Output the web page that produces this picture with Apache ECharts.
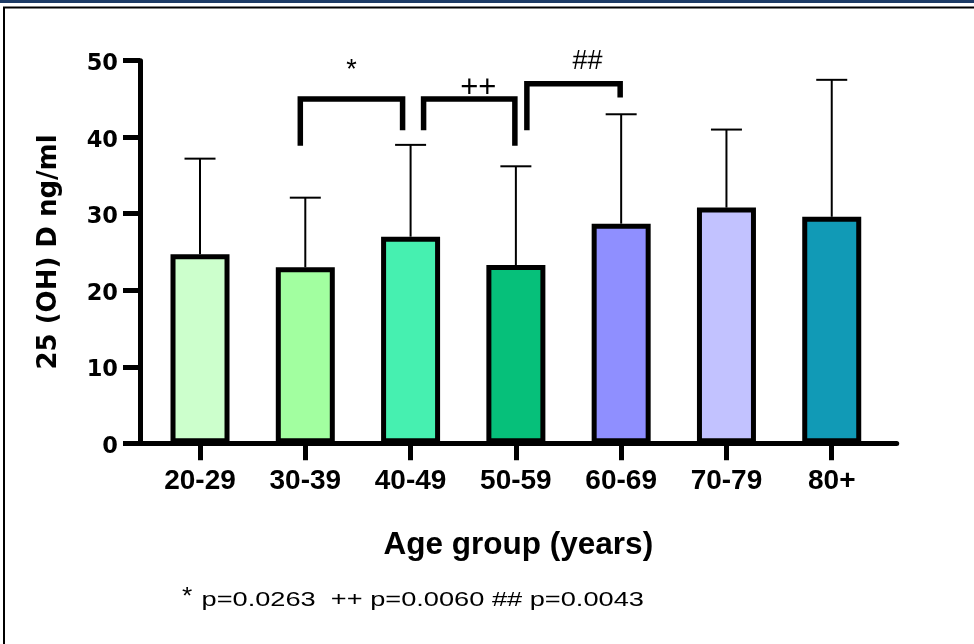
<!DOCTYPE html>
<html><head><meta charset="utf-8">
<script src="https://cdn.jsdelivr.net/npm/echarts@6/dist/echarts.min.js"></script>
<style>html,body{margin:0;padding:0;background:#fff}#c{width:974px;height:644px}</style>
</head><body><div id="c"></div>
<script>
// ---- data ----
const categories = ['20-29', '30-39', '40-49', '50-59', '60-69', '70-79', '80+'];
const means = [24.7, 23.0, 27.0, 23.3, 28.7, 30.8, 29.6];
const sds = [12.5, 9.1, 12.0, 12.9, 14.3, 10.2, 17.9];
const barColors = ['#ccffcc', '#a2ffa0', '#46f0b0', '#06c07a', '#8f8fff', '#c2c2ff', '#119ab6'];
const yTicks = [0, 10, 20, 30, 40, 50];
// significance brackets (category indices and value-axis heights)
const bracketFrom = [1, 2, 3];
const bracketTo = [2, 3, 4];
const bracketTop = [45.0, 45.0, 47.0];
const bracketLeftEnd = [38.9, 40.9, 40.9];
const bracketRightEnd = [40.9, 38.9, 45.2];
const bracketLabels = ['*', '++', '##'];
const footStar = '*';
const footText = 'p=0.0263  ++ p=0.0060 ## p=0.0043';

// ---- style / layout ----
const FONT = '"Liberation Sans", Arial, sans-serif';
const bracketLegDx = [[-5, -8], [13, -1], [11, -1]];
const bracketLabelOffset = [[0, -28, 27], [9, -11, 31], [14, -22, 27]];

const chart = echarts.init(document.getElementById('c'), null, {renderer: 'canvas'});
const catIdx = categories.map((c, i) => i);

function renderErr(params, api) {
  const i = api.value(0), m = api.value(1), s = api.value(2);
  const base = api.coord([i, m]);
  const top = api.coord([i, m + s]);
  const hw = 15.5;
  return {type: 'group', children: [
    {type: 'line', shape: {x1: base[0], y1: base[1], x2: top[0], y2: top[1]}, style: {stroke: '#000', lineWidth: 2}},
    {type: 'line', shape: {x1: top[0] - hw, y1: top[1], x2: top[0] + hw, y2: top[1]}, style: {stroke: '#000', lineWidth: 2}}
  ]};
}
function renderBracket(params, api) {
  const k = params.dataIndex;
  const f = api.value(0), t = api.value(1), top = api.value(2), le = api.value(3), re = api.value(4);
  const dx = bracketLegDx[k];
  const pL = api.coord([f, le]), pT = api.coord([f, top]), pR = api.coord([t, re]);
  const xl = pL[0] + dx[0], xr = pR[0] + dx[1];
  const lo = bracketLabelOffset[k];
  return {type: 'group', children: [
    {type: 'polyline', shape: {points: [[xl, pL[1]], [xl, pT[1]], [xr, pT[1]], [xr, pR[1]]]},
     style: {stroke: '#000', lineWidth: 5.5, fill: null, lineJoin: 'miter'}},
    {type: 'text', x: (xl + xr) / 2 + lo[0], y: pT[1] + lo[1],
     style: {text: bracketLabels[k], align: 'center', verticalAlign: 'middle',
       fontSize: lo[2], fontFamily: FONT, fill: '#000'}}
  ]};
}

const option = {
  backgroundColor: '#fff',
  animation: false,
  grid: {left: 140, top: 60.7, width: 756.7, height: 382.6, containLabel: false, outerBoundsMode: 'none'},
  xAxis: {
    type: 'value', min: -0.57, max: 6.617,
    axisLine: {show: true, onZero: false, lineStyle: {color: '#000', width: 5}},
    axisTick: {show: true, customValues: catIdx, length: 17, lineStyle: {color: '#000', width: 5}},
    axisLabel: {show: true, customValues: catIdx, formatter: v => categories[Math.round(v)],
      color: '#000', fontWeight: 'bold', fontSize: 28, fontFamily: FONT, margin: 24},
    splitLine: {show: false},
    name: 'Age group (years)', nameLocation: 'middle', nameGap: 86,
    nameTextStyle: {color: '#000', fontWeight: 'bold', fontSize: 31.5, fontFamily: FONT}
  },
  yAxis: {
    type: 'value', min: yTicks[0], max: yTicks[yTicks.length - 1], interval: yTicks[1] - yTicks[0],
    axisLine: {show: true, onZero: false, lineStyle: {color: '#000', width: 5}},
    axisTick: {show: true, length: 17, lineStyle: {color: '#000', width: 5}},
    axisLabel: {color: '#000', fontWeight: 'bold', fontSize: 22.5, fontFamily: '"DejaVu Sans", sans-serif',
      margin: 22, verticalAlign: 'top', lineHeight: 7},
    splitLine: {show: false},
    name: '25 (OH) D ng/ml', nameLocation: 'middle', nameGap: 78,
    nameTextStyle: {color: '#000', fontWeight: 'bold', fontSize: 26, fontFamily: '"DejaVu Sans", sans-serif'}
  },
  series: [
    {type: 'bar', barWidth: 59, z: 3,
     itemStyle: {borderColor: '#000', borderWidth: 5},
     data: means.map((v, i) => ({value: [i, v], itemStyle: {color: barColors[i]}}))},
    {type: 'custom', renderItem: renderErr, z: 2,
     data: means.map((v, i) => [i, v, sds[i]])},
    {type: 'custom', renderItem: renderBracket, z: 4,
     data: bracketFrom.map((f, k) => [f, bracketTo[k], bracketTop[k], bracketLeftEnd[k], bracketRightEnd[k]])}
  ],
  graphic: [
    {type: 'rect', shape: {x: 0, y: 0, width: 974, height: 3}, style: {fill: '#1d3b66'}},
    {type: 'line', shape: {x1: 3, y1: 7.5, x2: 974, y2: 7.5}, style: {stroke: '#000', lineWidth: 2}},
    {type: 'line', shape: {x1: 4, y1: 7, x2: 4, y2: 644}, style: {stroke: '#000', lineWidth: 2}},
    {type: 'text', x: 182, y: 597, scaleX: 1.1,
     style: {text: footStar, align: 'left', verticalAlign: 'middle', fontSize: 24, fontFamily: FONT, fill: '#000'}},
    {type: 'text', x: 201.5, y: 600.3, scaleX: 1.36,
     style: {text: footText, align: 'left', verticalAlign: 'middle', fontSize: 20, fontFamily: FONT, fill: '#000'}}
  ]
};
chart.setOption(option);
</script>
</body></html>
